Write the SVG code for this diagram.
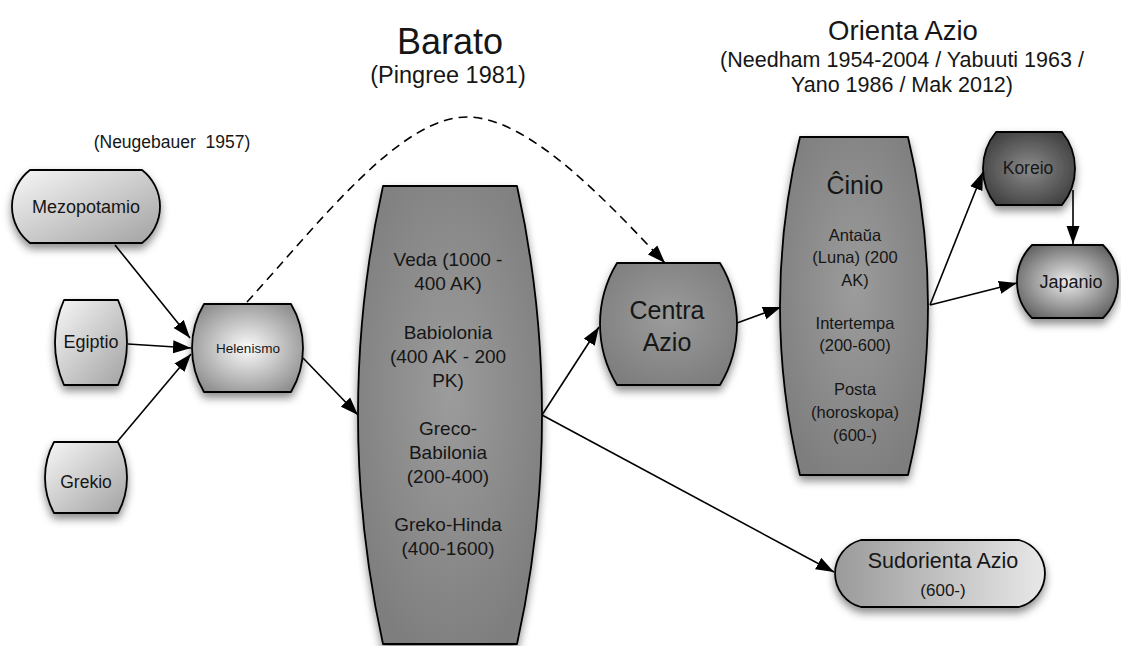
<svg xmlns="http://www.w3.org/2000/svg" width="1121" height="646" viewBox="0 0 1121 646">
<style>
text{font-family:"Liberation Sans",Arial,Helvetica,sans-serif;fill:#161616;text-anchor:middle}
.node path{stroke:#000;stroke-width:1.8;stroke-linejoin:round}
.edge{fill:none;stroke:#000;stroke-width:1.6}
.dash{stroke-dasharray:9 6}
</style>
<defs>
<marker id="arr" markerUnits="userSpaceOnUse" markerWidth="19" markerHeight="14" viewBox="0 0 19 14" refX="18" refY="7" orient="auto">
<path d="M0,0.5 L18,7 L0,13.5 Z" fill="#000"/>
</marker>
<filter id="sh" x="-20%" y="-20%" width="140%" height="150%">
<feDropShadow dx="0" dy="5" stdDeviation="4" flood-color="#000" flood-opacity="0.45"/>
</filter>
<linearGradient id="gLight" x1="0" y1="0" x2="1" y2="1">
<stop offset="0" stop-color="#f7f7f7"/>
<stop offset="1" stop-color="#a2a2a2"/>
</linearGradient>
<radialGradient id="gHel" cx="0.5" cy="0.5" r="0.6">
<stop offset="0" stop-color="#fbfbfb"/>
<stop offset="1" stop-color="#8e8e8e"/>
</radialGradient>
<radialGradient id="gMid" cx="0.5" cy="0.45" r="0.6">
<stop offset="0" stop-color="#9c9c9c"/>
<stop offset="1" stop-color="#7e7e7e"/>
</radialGradient>
<radialGradient id="gKor" cx="0.5" cy="0.5" r="0.6">
<stop offset="0" stop-color="#8a8a8a"/>
<stop offset="1" stop-color="#3e3e3e"/>
</radialGradient>
<radialGradient id="gJap" cx="0.5" cy="0.5" r="0.62">
<stop offset="0" stop-color="#ececec"/>
<stop offset="1" stop-color="#5a5a5a"/>
</radialGradient>
<linearGradient id="gSud" x1="0" y1="0" x2="1" y2="0">
<stop offset="0" stop-color="#9a9a9a"/>
<stop offset="1" stop-color="#e8e8e8"/>
</linearGradient>
</defs>
<rect width="1121" height="646" fill="#fff"/>

<g id="titles">
<text x="450" y="54" font-size="36">Barato</text>
<text x="448" y="83" font-size="23.5">(Pingree 1981)</text>
<text x="903" y="40" font-size="27.5">Orienta Azio</text>
<text x="902" y="67" font-size="21.5">(Needham 1954-2004 / Yabuuti 1963 /</text>
<text x="902" y="92" font-size="21.5">Yano 1986 / Mak 2012)</text>
<text x="172" y="148" font-size="17.5" xml:space="preserve">(Neugebauer  1957)</text>
</g>

<g id="connectors">
<line class="edge" x1="115" y1="245" x2="190" y2="338" marker-end="url(#arr)"/>
<line class="edge" x1="128" y1="344" x2="191" y2="348" marker-end="url(#arr)"/>
<line class="edge" x1="117" y1="442" x2="191" y2="354" marker-end="url(#arr)"/>
<line class="edge" x1="303" y1="358" x2="358" y2="415" marker-end="url(#arr)"/>
<line class="edge" x1="542" y1="415" x2="599" y2="327" marker-end="url(#arr)"/>
<line class="edge" x1="542" y1="415" x2="834" y2="572" marker-end="url(#arr)"/>
<line class="edge" x1="737" y1="323" x2="781" y2="307" marker-end="url(#arr)"/>
<line class="edge" x1="930" y1="305" x2="983" y2="172" marker-end="url(#arr)"/>
<line class="edge" x1="930" y1="305" x2="1017" y2="283" marker-end="url(#arr)"/>
<line class="edge" x1="1073" y1="190" x2="1073" y2="244" marker-end="url(#arr)"/>
<path class="edge dash" d="M247,302 C320,222 400,117 467,117 C530,117 610,205 665,263" marker-end="url(#arr)"/>
</g>

<g id="mezopotamio" class="node">
<path d="M30,170 H142 A46,46 0 0 1 142,243 H30 A46,46 0 0 1 30,170 Z" fill="url(#gLight)" filter="url(#sh)"/>
<text x="86" y="213" font-size="18">Mezopotamio</text>
</g>
<g id="egiptio" class="node">
<path d="M64,300 H118 A104.8,104.8 0 0 1 118,385 H64 A104.8,104.8 0 0 1 64,300 Z" fill="url(#gLight)" filter="url(#sh)"/>
<text x="91" y="348" font-size="18">Egiptio</text>
</g>
<g id="grekio" class="node">
<path d="M54,442 H118 A74.5,74.5 0 0 1 118,513 H54 A74.5,74.5 0 0 1 54,442 Z" fill="url(#gLight)" filter="url(#sh)"/>
<text x="86" y="488" font-size="17.5">Grekio</text>
</g>
<g id="helenismo" class="node">
<path d="M204,304 H291 A86.7,86.7 0 0 1 291,392 H204 A86.7,86.7 0 0 1 204,304 Z" fill="url(#gHel)" filter="url(#sh)"/>
<text x="248" y="353" font-size="13.5">Helenismo</text>
</g>
<g id="barato" class="node">
<path d="M383,186 H517 A1061,1061 0 0 1 517,644 H383 A1061,1061 0 0 1 383,186 Z" fill="url(#gMid)" filter="url(#sh)"/>
<text x="448" y="266" font-size="19">Veda (1000 -</text>
<text x="448" y="290" font-size="19">400 AK)</text>
<text x="448" y="339" font-size="19">Babiolonia</text>
<text x="448" y="363" font-size="19">(400 AK - 200</text>
<text x="448" y="387" font-size="19">PK)</text>
<text x="448" y="435" font-size="19">Greco-</text>
<text x="448" y="459" font-size="19">Babilonia</text>
<text x="448" y="483" font-size="19">(200-400)</text>
<text x="448" y="531" font-size="19">Greko-Hinda</text>
<text x="448" y="555" font-size="19">(400-1600)</text>
</g>
<g id="centra-azio" class="node">
<path d="M617,263 H720 A118,118 0 0 1 720,385 H617 A118,118 0 0 1 617,263 Z" fill="url(#gMid)" filter="url(#sh)"/>
<text x="667" y="319" font-size="25">Centra</text>
<text x="667" y="351" font-size="25">Azio</text>
</g>
<g id="cinio" class="node">
<path d="M800,137 H908 A724,724 0 0 1 908,475 H800 A724,724 0 0 1 800,137 Z" fill="url(#gMid)" filter="url(#sh)"/>
<text x="855" y="194" font-size="25">Ĉinio</text>
<text x="855" y="241" font-size="16.5">Antaŭa</text>
<text x="855" y="263" font-size="16.5">(Luna) (200</text>
<text x="855" y="286" font-size="16.5">AK)</text>
<text x="855" y="329" font-size="16.5">Intertempa</text>
<text x="855" y="351" font-size="16.5">(200-600)</text>
<text x="855" y="395" font-size="16.5">Posta</text>
<text x="855" y="418" font-size="16.5">(horoskopa)</text>
<text x="855" y="441" font-size="16.5">(600-)</text>
</g>
<g id="koreio" class="node">
<path d="M996,132 H1062 A57.7,57.7 0 0 1 1062,205 H996 A57.7,57.7 0 0 1 996,132 Z" fill="url(#gKor)" filter="url(#sh)"/>
<text x="1028" y="174" font-size="17.5">Koreio</text>
</g>
<g id="japanio" class="node">
<path d="M1032,245 H1103 A51.9,51.9 0 0 1 1103,318 H1032 A51.9,51.9 0 0 1 1032,245 Z" fill="url(#gJap)" filter="url(#sh)"/>
<text x="1071" y="288" font-size="18">Japanio</text>
</g>
<g id="sudorienta-azio" class="node">
<path d="M861,540 H1019 A34.6,34.6 0 0 1 1019,607 H861 A34.6,34.6 0 0 1 861,540 Z" fill="url(#gSud)" filter="url(#sh)"/>
<text x="943" y="568" font-size="21.5">Sudorienta Azio</text>
<text x="943" y="596" font-size="17">(600-)</text>
</g>
</svg>
